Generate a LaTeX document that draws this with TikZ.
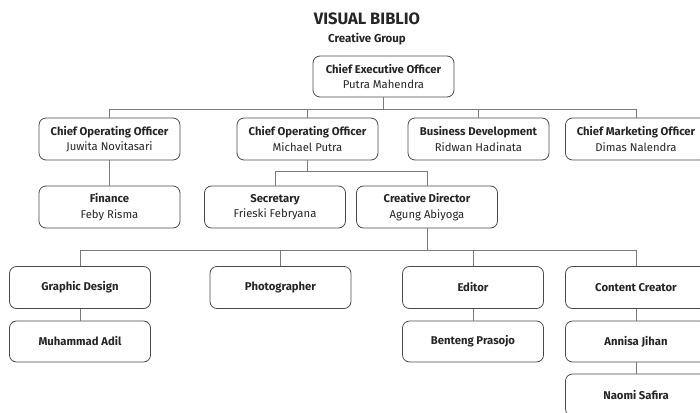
\documentclass[tikz,border=0pt]{standalone}
\usepackage{fontspec}
\setmainfont{Fira Sans}
\definecolor{ink}{HTML}{262626}
\definecolor{edge}{HTML}{4A4A4A}
\definecolor{wire}{HTML}{7A7A7A}
\begin{document}
\begin{tikzpicture}[x=1pt, y=-1pt, line width=0.8pt, font=\fontsize{11.3}{15.5}\selectfont, text=ink]
\tikzstyle{orgbox} = [rectangle, rounded corners=7pt, draw=edge, fill=white, align=center, minimum width=141pt, minimum height=42pt, inner sep=2pt]
\tikzstyle{link} = [draw=wire, line width=0.7pt]
\useasboundingbox (0,0) rectangle (700,412);
% title
\node (title) at (367,19) {\fontsize{16.5}{18}\selectfont\bfseries VISUAL BIBLIO};
\node (group) at (367,39) {\fontsize{11.5}{14}\selectfont\bfseries Creative Group};
% level 0
\node (ceo) at (383.5,76.5) [orgbox, minimum height=41pt] {\textbf{Chief Executive Officer}\\Putra Mahendra};
% level 1
\node (cooa) at (109.5,139) [orgbox] {\textbf{Chief Operating Officer}\\Juwita Novitasari};
\node (coob) at (307.5,139) [orgbox] {\textbf{Chief Operating Officer}\\Michael Putra};
\node (bizdev) at (478.5,139) [orgbox] {\textbf{Business Development}\\Ridwan Hadinata};
\node (cmo) at (636,139) [orgbox] {\textbf{Chief Marketing Officer}\\Dimas Nalendra};
% level 2
\node (finance) at (109.5,207) [orgbox] {\textbf{Finance}\\Feby Risma};
\node (secretary) at (275,207) [orgbox] {\textbf{Secretary}\\Frieski Febryana};
\node (creative) at (427,207) [orgbox] {\textbf{Creative Director}\\Agung Abiyoga};
% level 3
\node (graphic) at (80,287.5) [orgbox] {\textbf{Graphic Design}};
\node (photo) at (280.5,287.5) [orgbox] {\textbf{Photographer}};
\node (editor) at (473,287.5) [orgbox] {\textbf{Editor}};
\node (content) at (636,287.5) [orgbox] {\textbf{Content Creator}};
% level 4
\node (adil) at (80,341.5) [orgbox, minimum height=41pt] {\textbf{Muhammad Adil}};
\node (benteng) at (473,341.5) [orgbox, minimum height=41pt] {\textbf{Benteng Prasojo}};
\node (annisa) at (636,341.5) [orgbox, minimum height=41pt] {\textbf{Annisa Jihan}};
\node (naomi) at (636,395) [orgbox] {\textbf{Naomi Safira}};
% connectors
\foreach \to in {cooa, coob, bizdev, cmo}
  \draw [link] (ceo.south) -- ++(0,12) -| (\to.north);
\foreach \to in {secretary, creative}
  \draw [link] (coob.south) -- ++(0,11) -| (\to.north);
\foreach \to in {graphic, photo, editor, content}
  \draw [link] (creative.south) -- ++(0,22) -| (\to.north);
\foreach \from/\to in {cooa/finance, graphic/adil, editor/benteng, content/annisa, annisa/naomi}
  \draw [link] (\from) -- (\to);
\end{tikzpicture}
\end{document}
